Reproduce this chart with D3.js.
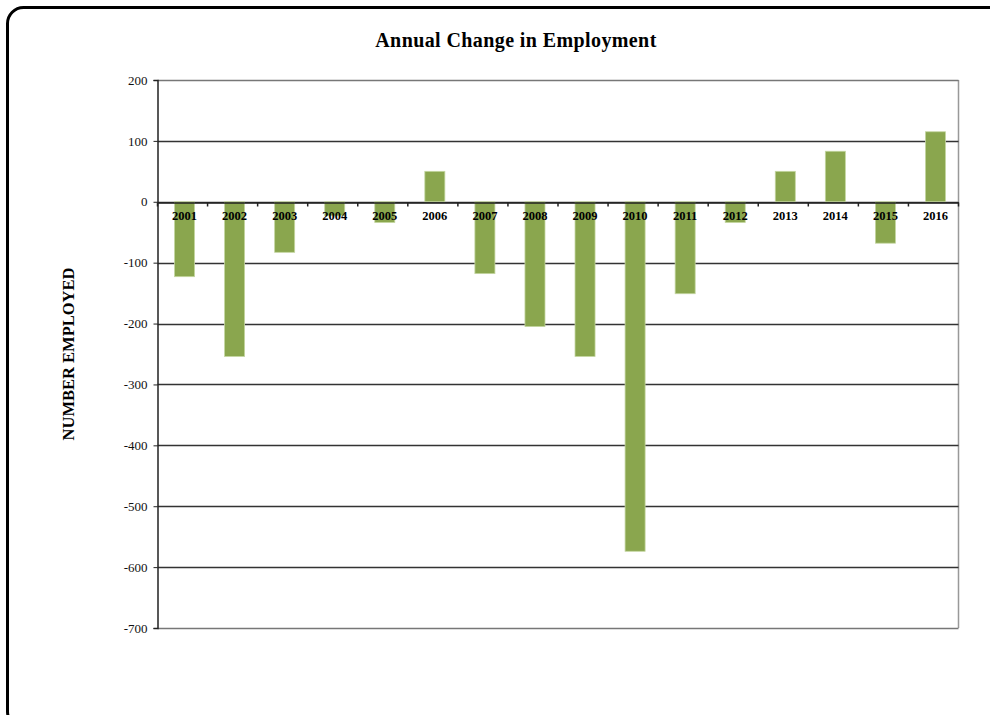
<!DOCTYPE html>
<html>
<head>
<meta charset="utf-8">
<script src="https://cdn.jsdelivr.net/npm/d3@7"></script>
<style>
  html, body { margin: 0; padding: 0; background: #fff; }
  svg { display: block; }
</style>
</head>
<body>
<svg id="chart" width="990" height="715"></svg>
<script>
const years = ["2001","2002","2003","2004","2005","2006","2007","2008","2009","2010","2011","2012","2013","2014","2015","2016"];
const changes = [-123, -254, -83, -23, -34, 50, -118, -205, -254, -574, -151, -34, 50, 83, -68, 115];
const yTicks = [200, 100, 0, -100, -200, -300, -400, -500, -600, -700];

const svg = d3.select("#chart");
const plot = { left: 157.5, right: 958.5, top: 80, bottom: 628 };
const serif = "'Liberation Serif', 'Times New Roman', serif";

// outer rounded frame
svg.append("rect")
  .attr("x", 7.5).attr("y", 7.5)
  .attr("width", 1000).attr("height", 720)
  .attr("rx", 16).attr("ry", 16)
  .attr("fill", "#fff").attr("stroke", "#000").attr("stroke-width", 3);

const x = d3.scaleBand().domain(years).range([plot.left, plot.right]).paddingInner(0.6).paddingOuter(0.3);
const y = d3.scaleLinear().domain([-700, 200]).range([plot.bottom, plot.top]);

// plot area border (right side grey)
svg.append("line")
  .attr("x1", plot.right).attr("x2", plot.right)
  .attr("y1", plot.top).attr("y2", plot.bottom)
  .attr("stroke", "#999").attr("stroke-width", 1.5);

// horizontal gridlines
svg.append("g").selectAll("line")
  .data(yTicks)
  .join("line")
  .attr("x1", plot.left).attr("x2", plot.right)
  .attr("y1", d => Math.round(y(d)) + 0.5).attr("y2", d => Math.round(y(d)) + 0.5)
  .attr("stroke", d => (d === 200 || d === -700) ? "#777" : "#333")
  .attr("stroke-width", 1.5);

// bars
svg.append("g").selectAll("rect")
  .data(years.map((yr, i) => ({ yr, v: changes[i] })))
  .join("rect")
  .attr("x", d => x(d.yr) + x.bandwidth() * 0.1)
  .attr("width", x.bandwidth())
  .attr("y", d => y(Math.max(0, d.v)))
  .attr("height", d => Math.abs(y(d.v) - y(0)))
  .attr("fill", "#8aa64e")
  .attr("stroke", "#c4d6a0").attr("stroke-width", 0.8);

// y axis
const yAxis = d3.axisLeft(y).tickValues(yTicks).tickFormat(d => String(d)).tickSize(4).tickPadding(6);
const gy = svg.append("g").attr("transform", `translate(${plot.left},0)`).call(yAxis);
gy.select(".domain").attr("stroke", "#222").attr("stroke-width", 1.5);
gy.selectAll(".tick line").attr("stroke", "#222");
gy.selectAll("text").attr("font-family", serif).attr("font-size", 13).attr("fill", "#111");

// category axis along zero line
const xAxis = d3.axisBottom(x).tickSize(0).tickPadding(9);
const gx = svg.append("g").attr("transform", `translate(0,${Math.round(y(0)) + 0.5})`).call(xAxis);
gx.select(".domain").attr("stroke", "#222").attr("stroke-width", 1.5);
gx.selectAll("text").attr("font-family", serif).attr("font-size", 12.5)
  .attr("font-weight", "bold").attr("fill", "#000")
  .attr("dx", 2);

// boundary tick marks between categories
const bounds = d3.range(years.length + 1).map(i => plot.left + i * (plot.right - plot.left) / years.length);
gx.append("g").selectAll("line")
  .data(bounds)
  .join("line")
  .attr("x1", d => d).attr("x2", d => d)
  .attr("y1", 0).attr("y2", 4)
  .attr("stroke", "#222").attr("stroke-width", 1.5);

// title
svg.append("text")
  .attr("x", 516).attr("y", 47)
  .attr("text-anchor", "middle")
  .attr("font-family", serif).attr("font-size", 20).attr("font-weight", "bold")
  .attr("letter-spacing", 0.4)
  .text("Annual Change in Employment");

// y axis title
svg.append("text")
  .attr("transform", "translate(74,354) rotate(-90)")
  .attr("text-anchor", "middle")
  .attr("font-family", serif).attr("font-size", 16.5).attr("font-weight", "bold")
  .text("NUMBER EMPLOYED");
</script>
</body>
</html>
